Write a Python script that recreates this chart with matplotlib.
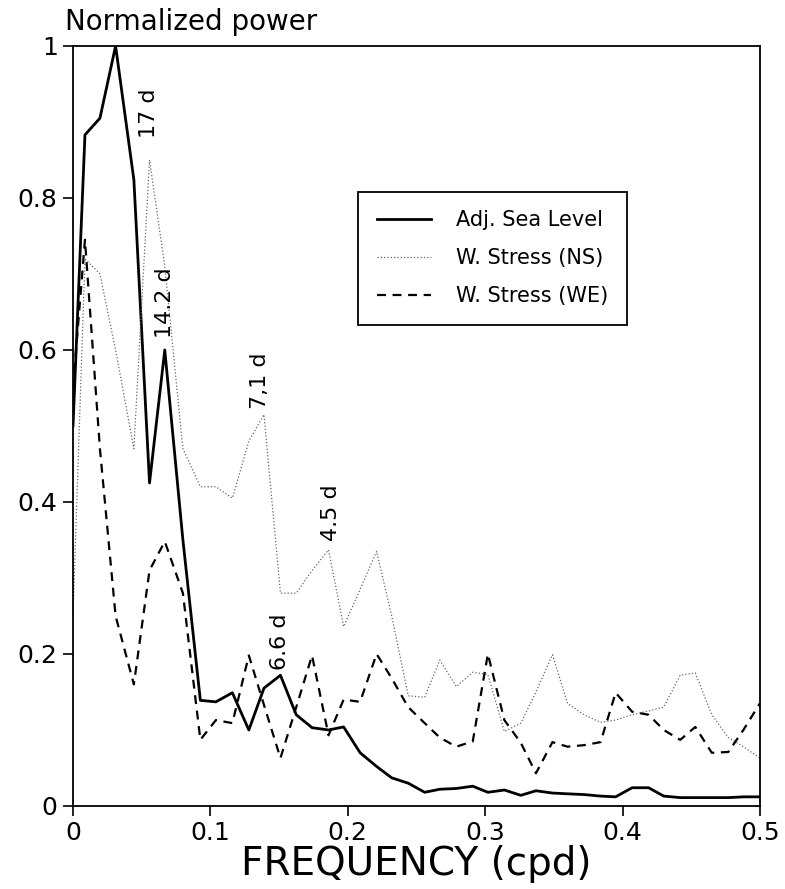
import matplotlib
matplotlib.use("Agg")
import matplotlib.pyplot as plt

# frequency grid (cpd)
freq = [0, 0.0087, 0.0196, 0.031, 0.0443, 0.0557, 0.0668, 0.080, 0.0927, 0.104,
        0.116, 0.128, 0.139, 0.151, 0.1625, 0.174, 0.186, 0.197, 0.209, 0.221,
        0.232, 0.244, 0.256, 0.267, 0.279, 0.291, 0.302, 0.314, 0.326, 0.337,
        0.349, 0.360, 0.372, 0.384, 0.395, 0.407, 0.419, 0.430, 0.442, 0.453,
        0.465, 0.477, 0.488, 0.5]

sea_level = [0.50, 0.883, 0.905, 1.0, 0.824, 0.425, 0.60, 0.35, 0.139, 0.137,
             0.149, 0.10, 0.155, 0.172, 0.12, 0.103, 0.10, 0.104, 0.07, 0.052,
             0.037, 0.03, 0.018, 0.022, 0.023, 0.026, 0.018, 0.021, 0.014, 0.02,
             0.017, 0.016, 0.015, 0.013, 0.012, 0.024, 0.024, 0.013, 0.011, 0.011,
             0.011, 0.011, 0.012, 0.012]

stress_ns = [0.25, 0.72, 0.70, 0.60, 0.47, 0.85, 0.71, 0.47, 0.42, 0.42,
             0.405, 0.48, 0.515, 0.28, 0.28, 0.31, 0.337, 0.236, 0.285, 0.335,
             0.25, 0.145, 0.143, 0.192, 0.157, 0.176, 0.173, 0.098, 0.109, 0.15,
             0.199, 0.135, 0.12, 0.11, 0.113, 0.12, 0.125, 0.13, 0.172, 0.175,
             0.12, 0.09, 0.078, 0.063]

stress_we = [0.55, 0.745, 0.47, 0.25, 0.16, 0.31, 0.348, 0.28, 0.087, 0.113,
             0.109, 0.198, 0.133, 0.063, 0.13, 0.198, 0.093, 0.14, 0.137, 0.20,
             0.168, 0.13, 0.109, 0.09, 0.078, 0.085, 0.20, 0.113, 0.083, 0.043,
             0.084, 0.078, 0.08, 0.084, 0.149, 0.124, 0.12, 0.10, 0.087, 0.104,
             0.07, 0.071, 0.10, 0.135]

# period labels: text, x, y
peak_labels = ["17 d", "14.2 d", "7,1 d", "4.5 d", "6.6 d"]
peak_x = [0.0553, 0.0669, 0.136, 0.188, 0.1505]
peak_y = [0.912, 0.662, 0.56, 0.386, 0.216]

plt.rcParams['font.family'] = ['DejaVu Sans']

fig = plt.figure(figsize=(7.85, 8.89), dpi=100)
ax = fig.add_axes([0.093, 0.0934, 0.875, 0.8549])

ax.plot(freq, sea_level, color='black', lw=2.0, label='Adj. Sea Level')
ax.plot(freq, stress_ns, color='#666666', lw=0.9, ls=':', label='W. Stress (NS)')
ax.plot(freq, stress_we, color='black', lw=1.6, ls=(0, (4, 3)), label='W. Stress (WE)')

for txt, x, y in zip(peak_labels, peak_x, peak_y):
    ax.text(x, y, txt, rotation=90, fontsize=16, ha='center', va='center')

ax.set_xlim(0, 0.5)
ax.set_ylim(0, 1)
ax.set_xticks([0, 0.1, 0.2, 0.3, 0.4, 0.5])
ax.set_xticklabels(['0', '0.1', '0.2', '0.3', '0.4', '0.5'])
ax.set_yticks([0, 0.2, 0.4, 0.6, 0.8, 1])
ax.set_yticklabels(['0', '0.2', '0.4', '0.6', '0.8', '1'])
ax.tick_params(direction='out', length=7, width=1.2, labelsize=18, pad=4)
for s in ax.spines.values():
    s.set_linewidth(1.3)
    s.set_color('black')

ax.set_xlabel('FREQUENCY (cpd)', fontsize=28, labelpad=0)
fig.text(65 / 785, 1 - 22 / 889, 'Normalized power', fontsize=20, ha='left', va='center')

leg = ax.legend(loc='upper left', bbox_to_anchor=(0.40, 0.822), fontsize=15,
                frameon=True, fancybox=False, edgecolor='black', framealpha=1,
                handlelength=2.6, borderpad=0.9, labelspacing=0.85, handletextpad=1.2)
leg.get_frame().set_linewidth(1.3)

fig.savefig('out.png', dpi=100)
